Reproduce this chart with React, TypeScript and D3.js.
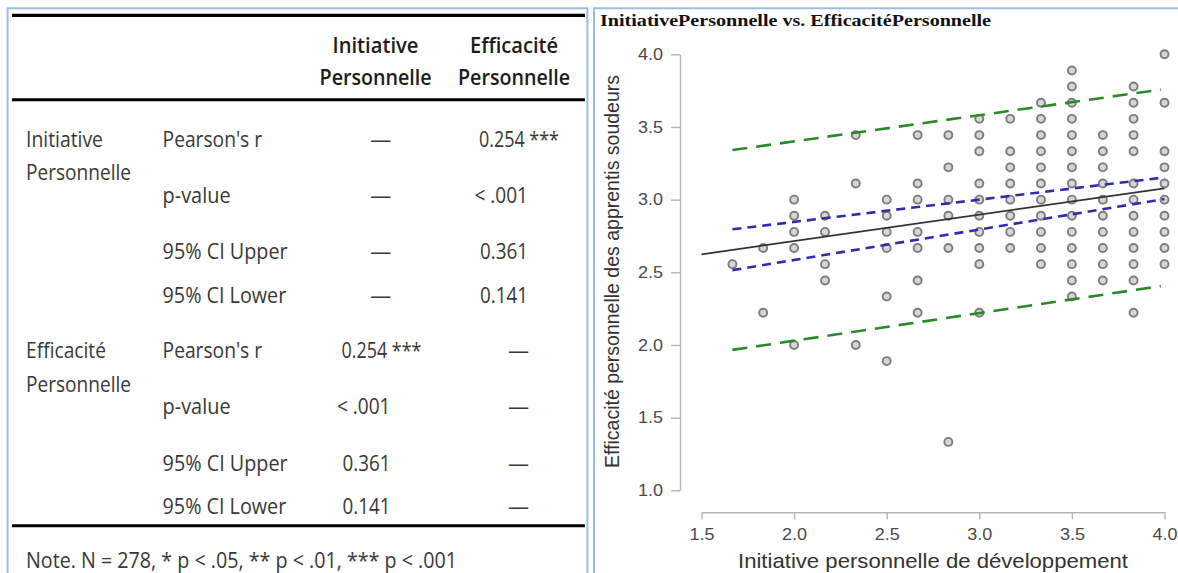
import * as d3 from "d3";
import { FC, useEffect, useRef } from "react";

// scatter data: x levels (initiative) and the efficacité values found at each level
const INITIATIVE_LEVELS: number[] = [
  1.667, 1.833, 2.0, 2.167, 2.333, 2.5, 2.667, 2.833, 3.0, 3.167, 3.333, 3.5,
  3.667, 3.833, 4.0,
];
const EFFICACITE_BY_LEVEL: number[][] = [
  [2.556],
  [2.667, 2.222],
  [3.0, 2.889, 2.778, 2.667, 2.0],
  [2.889, 2.778, 2.556, 2.444],
  [3.444, 3.111, 2.0],
  [3.0, 2.889, 2.778, 2.667, 2.333, 1.889],
  [3.444, 3.111, 3.0, 2.778, 2.667, 2.444, 2.222],
  [3.444, 3.222, 3.0, 2.889, 2.667, 1.333],
  [3.556, 3.444, 3.333, 3.111, 3.0, 2.889, 2.778, 2.667, 2.556, 2.222],
  [3.556, 3.333, 3.222, 3.111, 3.0, 2.889, 2.778, 2.667],
  [3.667, 3.556, 3.444, 3.333, 3.222, 3.111, 3.0, 2.889, 2.778, 2.667, 2.556],
  [3.889, 3.778, 3.667, 3.556, 3.444, 3.333, 3.222, 3.111, 3.0, 2.889, 2.778, 2.667, 2.556, 2.444, 2.333],
  [3.444, 3.333, 3.222, 3.111, 3.0, 2.889, 2.778, 2.667, 2.556, 2.444],
  [3.778, 3.667, 3.556, 3.444, 3.333, 3.111, 3.0, 2.889, 2.778, 2.667, 2.556, 2.444, 2.222],
  [4.0, 3.667, 3.333, 3.222, 3.111, 3.0, 2.889, 2.778, 2.667, 2.556],
];

// fitted line, confidence band and prediction band (end points)
const FIT_X = [1.5, 4.0];
const FIT_Y = [2.624, 3.078];
const CI_X = [1.667, 4.0];
const CI_UPPER = [2.796, 3.153];
const CI_LOWER = [2.515, 3.004];
const PI_X = [1.667, 3.98];
const PI_UPPER = [3.341, 3.757];
const PI_LOWER = [1.966, 2.405];

const X_TICKS = [1.5, 2.0, 2.5, 3.0, 3.5, 4.0];
const Y_TICKS = [1.0, 1.5, 2.0, 2.5, 3.0, 3.5, 4.0];

// correlation table
const COL_HEADERS: string[][] = [
  ["Initiative", "Personnelle"],
  ["Efficacité", "Personnelle"],
];
const VAR_NAMES: string[][] = [
  ["Initiative", "Personnelle"],
  ["Efficacité", "Personnelle"],
];
const STAT_LABELS = ["Pearson's r", "p-value", "95% CI Upper", "95% CI Lower"];
const STAT_VALUES = ["0.254 ***", "< .001", "0.361", "0.141"];
const NOTE = "Note. N = 278, * p < .05, ** p < .01, *** p < .001";

const TABLE_FONT = "'Open Sans', 'DejaVu Sans', sans-serif";
const SANS = "'Liberation Sans', Arial, sans-serif";

const T: FC<{
  x: number;
  y: number;
  w: number;
  anchor?: "start" | "middle" | "end";
  bold?: boolean;
  children: string;
}> = ({ x, y, w, anchor = "start", bold = false, children }) => (
  <text
    x={x}
    y={y}
    textLength={w}
    lengthAdjust="spacingAndGlyphs"
    textAnchor={anchor}
    fontFamily={TABLE_FONT}
    fontSize={22}
    fontWeight={bold ? 600 : 400}
    fill={bold ? "#1c1c1c" : "#383838"}
  >
    {children}
  </text>
);

const App: FC = () => {
  const plotRef = useRef<SVGGElement | null>(null);

  useEffect(() => {
    if (!plotRef.current) return;
    const g = d3.select(plotRef.current);
    g.selectAll("*").remove();

    const x = d3.scaleLinear().domain([1.5, 4.0]).range([701.5, 1164.5]);
    const y = d3.scaleLinear().domain([1.0, 4.0]).range([490.3, 54.3]);

    // y axis
    const yAxis = g
      .append("g")
      .attr("transform", "translate(680,0)")
      .call(
        d3
          .axisLeft(y)
          .tickValues(Y_TICKS)
          .tickFormat(d3.format(".1f"))
          .tickSize(9)
          .tickSizeOuter(0)
          .tickPadding(8)
      );
    yAxis.select(".domain").attr("stroke", "#b5b5b5").attr("stroke-width", 1.4);
    yAxis.selectAll(".tick line").attr("stroke", "#b5b5b5").attr("stroke-width", 1.4);
    yAxis
      .selectAll(".tick text")
      .attr("font-family", SANS)
      .attr("font-size", 16)
      .attr("fill", "#4a4a4a")
      .attr("textLength", 25)
      .attr("lengthAdjust", "spacingAndGlyphs");

    // x axis
    const xAxis = g
      .append("g")
      .attr("transform", "translate(0,512.3)")
      .call(
        d3
          .axisBottom(x)
          .tickValues(X_TICKS)
          .tickFormat(d3.format(".1f"))
          .tickSize(7)
          .tickSizeOuter(0)
          .tickPadding(9)
      );
    xAxis.select(".domain").attr("stroke", "#b5b5b5").attr("stroke-width", 1.4);
    xAxis.selectAll(".tick line").attr("stroke", "#b5b5b5").attr("stroke-width", 1.4);
    xAxis
      .selectAll(".tick text")
      .attr("font-family", SANS)
      .attr("font-size", 16)
      .attr("fill", "#4a4a4a")
      .attr("textLength", 25)
      .attr("lengthAdjust", "spacingAndGlyphs");

    // points
    const points: [number, number][] = INITIATIVE_LEVELS.flatMap((lv, i) =>
      EFFICACITE_BY_LEVEL[i].map((v) => [lv, v] as [number, number])
    );
    g.append("g")
      .selectAll("circle")
      .data(points)
      .enter()
      .append("circle")
      .attr("cx", (d) => x(d[0]))
      .attr("cy", (d) => y(d[1]))
      .attr("r", 4)
      .attr("fill", "#d6d6d6")
      .attr("stroke", "#7c7c7c")
      .attr("stroke-width", 1.9);

    const line = d3
      .line<[number, number]>()
      .x((d) => x(d[0]))
      .y((d) => y(d[1]));
    const zip = (xs: number[], ys: number[]) =>
      xs.map((v, i) => [v, ys[i]] as [number, number]);

    const series: { d: [number, number][]; color: string; w: number; dash: string | null }[] = [
      { d: zip(PI_X, PI_UPPER), color: "#2a8a2a", w: 2.6, dash: "15,9" },
      { d: zip(PI_X, PI_LOWER), color: "#2a8a2a", w: 2.6, dash: "15,9" },
      { d: zip(CI_X, CI_UPPER), color: "#2d2db0", w: 2.6, dash: "9,6" },
      { d: zip(CI_X, CI_LOWER), color: "#2d2db0", w: 2.6, dash: "9,6" },
      { d: zip(FIT_X, FIT_Y), color: "#333", w: 1.8, dash: null },
    ];
    g.append("g")
      .selectAll("path")
      .data(series)
      .enter()
      .append("path")
      .attr("d", (s) => line(s.d))
      .attr("fill", "none")
      .attr("stroke", (s) => s.color)
      .attr("stroke-width", (s) => s.w)
      .attr("stroke-dasharray", (s) => s.dash);
  }, []);

  const rowBase = [
    [146.5, 202.5, 259, 303],
    [358.3, 414, 471, 514.3],
  ];
  const labelW = [99.5, 68, 125, 123.6];
  const valueW = [80, 53.5, 48, 48];
  const valueLeftCol2 = [479, 474.5, 480, 480];
  const colShift = 137.5;
  const dashCenters = [380.8, 518.6];

  return (
    <svg
      width={1178}
      height={573}
      style={{ position: "absolute", left: 0, top: 0, background: "#fff" }}
    >
      {/* panel frames */}
      <g fill="none" stroke="#9bbbe9" strokeWidth={2}>
        <path d="M7.6,580 V8.3 H587.4 V580" />
        <path d="M594,580 V8.3 H1180" />
      </g>

      {/* table rules */}
      <g stroke="#000">
        <line x1={12} x2={585} y1={15.3} y2={15.3} strokeWidth={3.2} />
        <line x1={12} x2={585} y1={99.7} y2={99.7} strokeWidth={3} />
        <line x1={12} x2={585} y1={525.7} y2={525.7} strokeWidth={3} />
      </g>

      {/* column headers */}
      <T x={375.5} y={52.7} w={86} anchor="middle" bold>{COL_HEADERS[0][0]}</T>
      <T x={375.6} y={85} w={112} anchor="middle" bold>{COL_HEADERS[0][1]}</T>
      <T x={514} y={52.7} w={88} anchor="middle" bold>{COL_HEADERS[1][0]}</T>
      <T x={514} y={85} w={112} anchor="middle" bold>{COL_HEADERS[1][1]}</T>

      {VAR_NAMES.map((name, gi) => (
        <g key={gi}>
          <T x={26} y={rowBase[gi][0]} w={gi === 0 ? 77 : 80}>{name[0]}</T>
          <T x={26} y={rowBase[gi][0] + 33.5} w={105}>{name[1]}</T>
          {STAT_LABELS.map((lab, ri) => (
            <g key={ri}>
              <T x={162.6} y={rowBase[gi][ri]} w={labelW[ri]}>{lab}</T>
              <T
                x={valueLeftCol2[ri] - (gi === 0 ? 0 : colShift)}
                y={rowBase[gi][ri]}
                w={valueW[ri]}
              >
                {STAT_VALUES[ri]}
              </T>
              <T x={dashCenters[gi]} y={rowBase[gi][ri]} w={21} anchor="middle">
                —
              </T>
            </g>
          ))}
        </g>
      ))}

      <T x={26} y={568.3} w={431}>{NOTE}</T>

      {/* scatter panel */}
      <text
        x={600}
        y={26}
        fontFamily="'Liberation Serif', 'Times New Roman', serif"
        fontWeight="bold"
        fontSize={17}
        textLength={391}
        lengthAdjust="spacingAndGlyphs"
        fill="#111"
      >
        InitiativePersonnelle vs. EfficacitéPersonnelle
      </text>
      <g ref={plotRef} />
      <text
        transform="translate(619,271.5) rotate(-90)"
        textAnchor="middle"
        fontFamily={SANS}
        fontSize={21}
        textLength={393}
        lengthAdjust="spacingAndGlyphs"
        fill="#333"
      >
        Efficacité personnelle des apprentis soudeurs
      </text>
      <text
        x={933}
        y={568}
        textAnchor="middle"
        fontFamily={SANS}
        fontSize={21}
        textLength={390}
        lengthAdjust="spacingAndGlyphs"
        fill="#333"
      >
        Initiative personnelle de développement
      </text>
    </svg>
  );
};

export default App;
